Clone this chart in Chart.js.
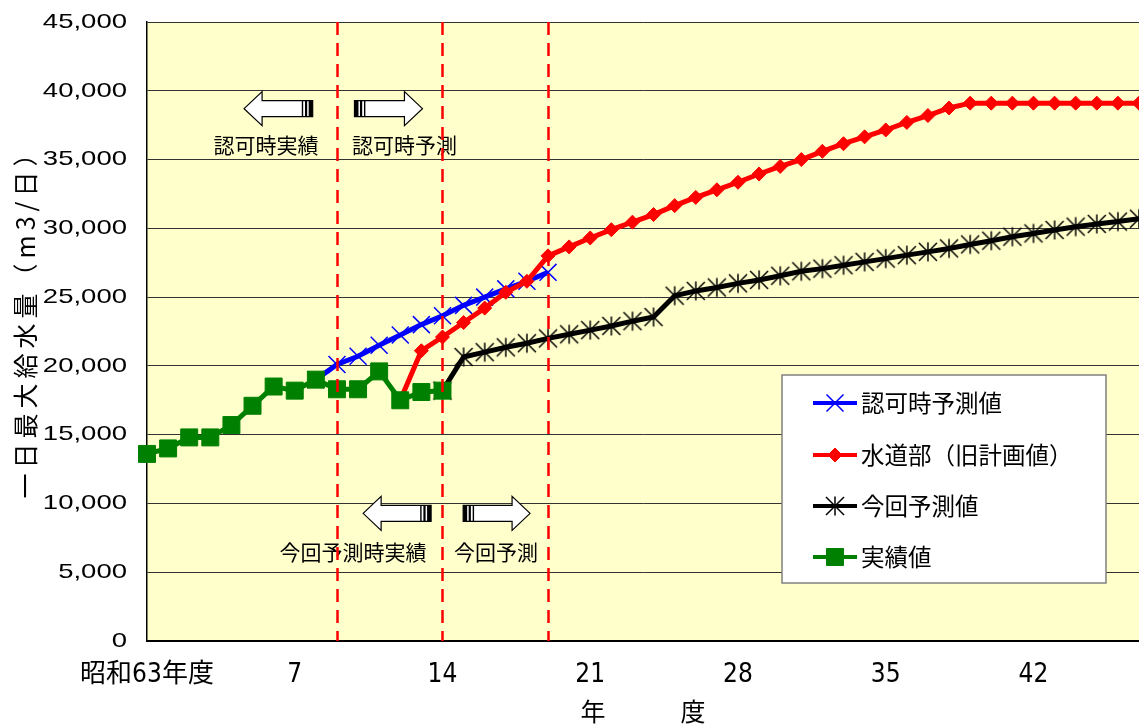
<!DOCTYPE html>
<html lang="ja">
<head>
<meta charset="utf-8">
<title>一日最大給水量の推移</title>
<script src="https://cdn.jsdelivr.net/npm/chart.js@4.4.1/dist/chart.umd.min.js"></script>
<style>
  html, body { margin: 0; padding: 0; background: #fff; }
  #wrap { width: 1139px; height: 726px; }
</style>
</head>
<body>
<div id="wrap"><canvas id="chart" width="1139" height="726"></canvas></div>
<script>
// 年度（0 = 昭和63年度、以降は平成の年）
const years = ["昭和63年度", "1", "2", "3", "4", "5", "6", "7", "8", "9",
  "10", "11", "12", "13", "14", "15", "16", "17", "18", "19",
  "20", "21", "22", "23", "24", "25", "26", "27", "28", "29",
  "30", "31", "32", "33", "34", "35", "36", "37", "38", "39",
  "40", "41", "42", "43", "44", "45", "46", "47"];
const tickLabels = ["昭和63年度", "7", "14", "21", "28", "35", "42"];
const boundaryYears = [9, 14, 19];

// 実績値 (昭和63〜平成14)
const jissekiStart = 0;
const jisseki = [13600, 14000, 14800, 14800, 15700, 17100, 18500, 18200, 19000, 18300,
  18300, 19600, 17500, 18100, 18200];

// 認可時予測値 (平成8〜19)
const ninkaStart = 8;
const ninka = [19000, 20100, 20700, 21500, 22250, 23000, 23650, 24400, 25000, 25600,
  26150, 26800];

// 水道部（旧計画値） (平成12〜47)
const suidoStart = 12;
const suido = [17500, 21100, 22100, 23150, 24200, 25350, 26150, 28000, 28650, 29300,
  29900, 30450, 31000, 31650, 32250, 32800, 33350, 33950, 34500, 35000,
  35600, 36150, 36650, 37150, 37700, 38200, 38750, 39100, 39100, 39100,
  39100, 39100, 39100, 39100, 39100, 39100];

// 今回予測値 (平成14〜47)
const konkaiStart = 14;
const konkai = [18200, 20650, 21000, 21350, 21650, 22000, 22300, 22600, 22900, 23250,
  23550, 25100, 25450, 25700, 26000, 26250, 26550, 26880, 27070, 27320,
  27560, 27800, 28050, 28290, 28540, 28830, 29100, 29390, 29630, 29880,
  30120, 30320, 30490, 30700];

// 年度軸に合わせて先頭を null で埋める
function align(start, vals) {
  return Array(start).fill(null).concat(vals);
}

// 矢印と注記（x は年度、y は給水量の座標）
const arrows = [
  { tail: 7.85, tip: 4.6, y: 38700 },
  { tail: 9.83, tip: 13.05, y: 38700 },
  { tail: 13.46, tip: 10.24, y: 9280 },
  { tail: 14.98, tip: 18.15, y: 9280 }
];
const notes = [
  { text: "認可時実績", x: 5.64, y: 36060 },
  { text: "認可時予測", x: 12.2, y: 36060 },
  { text: "今回予測時実績", x: 9.76, y: 6490 },
  { text: "今回予測", x: 16.54, y: 6490 }
];

const CJK = '"Noto Sans CJK JP", sans-serif';

// エクセル風のアスタリスク（× + 縦線）
function makeAsterisk() {
  const c = document.createElement("canvas");
  c.width = 22; c.height = 22;
  const g = c.getContext("2d");
  g.strokeStyle = "#000";
  g.lineWidth = 1.5;
  g.beginPath();
  g.moveTo(11, 1.5); g.lineTo(11, 20.5);
  g.moveTo(2, 2); g.lineTo(20, 20);
  g.moveTo(20, 2); g.lineTo(2, 20);
  g.stroke();
  return c;
}
const asterisk = makeAsterisk();

const datasets = [
  {
    label: "認可時予測値",
    data: align(ninkaStart, ninka),
    borderColor: "#0000FF",
    borderWidth: 5,
    pointStyle: "crossRot",
    pointRadius: 12,
    pointBorderWidth: 1.5,
    pointBorderColor: "#0000FF",
    pointBackgroundColor: "#0000FF",
    order: 3
  },
  {
    label: "水道部（旧計画値）",
    data: align(suidoStart, suido),
    borderColor: "#FF0000",
    borderWidth: 5,
    pointStyle: "rectRot",
    pointRadius: 7,
    pointBorderWidth: 1,
    pointBorderColor: "#FF0000",
    pointBackgroundColor: "#FF0000",
    order: 2
  },
  {
    label: "今回予測値",
    data: align(konkaiStart, konkai),
    borderColor: "#000000",
    borderWidth: 5,
    pointStyle: asterisk,
    pointRadius: 11,
    pointBorderWidth: 1,
    pointBorderColor: "#000000",
    pointBackgroundColor: "#000000",
    order: 1
  },
  {
    label: "実績値",
    data: align(jissekiStart, jisseki),
    borderColor: "#008000",
    borderWidth: 5,
    pointStyle: "rect",
    pointRadius: 12,
    pointBorderWidth: 1,
    pointBorderColor: "#008000",
    pointBackgroundColor: "#008000",
    order: 0
  }
];

function drawArrow(ctx, xTail, xTip, y) {
  const dir = Math.sign(xTip - xTail);
  const headLen = 18, headH = 17, shaftH = 8;
  const xb = xTip - dir * headLen;
  ctx.beginPath();
  ctx.moveTo(xTip, y);
  ctx.lineTo(xb, y - headH);
  ctx.lineTo(xb, y - shaftH);
  ctx.lineTo(xTail, y - shaftH);
  ctx.lineTo(xTail, y + shaftH);
  ctx.lineTo(xb, y + shaftH);
  ctx.lineTo(xb, y + headH);
  ctx.closePath();
  ctx.fillStyle = "#fff";
  ctx.fill();
  ctx.strokeStyle = "#000";
  ctx.lineWidth = 1.2;
  ctx.stroke();
  // 矢印の根元の帯
  ctx.fillStyle = "#000";
  [[0, 4], [5.5, 2.2], [9.5, 1.4]].forEach(([o, w]) => {
    const x = xTail + dir * o;
    ctx.fillRect(dir > 0 ? x : x - w, y - shaftH, w, 2 * shaftH);
  });
}

const decorPlugin = {
  id: "decor",
  beforeDraw(chart) {
    const { ctx, chartArea: a } = chart;
    ctx.save();
    ctx.fillStyle = "#FFFFCC";
    ctx.fillRect(a.left, a.top, a.right - a.left, a.bottom - a.top);
    ctx.restore();

    const ys = chart.scales.y;
    if (!ys._patched) {
      // 縦軸の数字は横長にする
      const origLabels = ys.drawLabels;
      ys.drawLabels = function (area) {
        const c = this.ctx;
        const ax = this.right - this.options.ticks.padding;
        c.save();
        c.translate(ax, 0);
        c.scale(1.31, 1);
        c.translate(-ax, 0);
        origLabels.call(this, area);
        c.restore();
      };
      // 軸タイトルは字間を少し空け、やや上に置く
      const origTitle = ys.drawTitle;
      ys.drawTitle = function () {
        const c = this.ctx;
        c.save();
        c.translate(0, -14);
        c.letterSpacing = "5px";
        origTitle.call(this);
        c.restore();
      };
      ys._patched = true;
    }
  },
  afterDatasetsDraw(chart) {
    const { ctx, chartArea: a, scales: { x, y } } = chart;
    ctx.save();
    arrows.forEach(ar => drawArrow(ctx, x.getPixelForValue(ar.tail), x.getPixelForValue(ar.tip), y.getPixelForValue(ar.y)));
    ctx.fillStyle = "#000";
    ctx.font = "21px " + CJK;
    ctx.textAlign = "center";
    ctx.textBaseline = "middle";
    notes.forEach(n => ctx.fillText(n.text, x.getPixelForValue(n.x), y.getPixelForValue(n.y)));

    // 区切りの破線
    ctx.strokeStyle = "#FF0000";
    ctx.lineWidth = 2.5;
    ctx.setLineDash([13, 8]);
    boundaryYears.forEach(v => {
      const px = Math.round(x.getPixelForValue(v)) + 0.5;
      ctx.beginPath();
      ctx.moveTo(px, a.top);
      ctx.lineTo(px, a.bottom);
      ctx.stroke();
    });
    ctx.restore();
  },
  afterDraw(chart) {
    const { ctx } = chart;
    const bx = 782, by = 375, bw = 324, bh = 208;
    ctx.save();
    ctx.fillStyle = "#fff";
    ctx.fillRect(bx, by, bw, bh);
    ctx.strokeStyle = "#808080";
    ctx.lineWidth = 1.5;
    ctx.strokeRect(bx, by, bw, bh);
    const rows = [403, 455, 506, 557];
    datasets.forEach((ds, i) => {
      const yy = rows[i];
      ctx.strokeStyle = ds.borderColor;
      ctx.lineWidth = 4;
      ctx.setLineDash([]);
      ctx.beginPath();
      ctx.moveTo(813, yy);
      ctx.lineTo(857, yy);
      ctx.stroke();
      ctx.fillStyle = ds.pointBackgroundColor;
      ctx.strokeStyle = ds.pointBorderColor;
      ctx.lineWidth = ds.pointBorderWidth;
      Chart.helpers.drawPoint(ctx, {
        pointStyle: ds.pointStyle,
        radius: ds.pointRadius,
        borderWidth: ds.pointBorderWidth,
        rotation: 0
      }, 835, yy);
      ctx.fillStyle = "#000";
      ctx.font = "23.5px " + CJK;
      ctx.textAlign = "left";
      ctx.textBaseline = "middle";
      ctx.fillText(ds.label, 861, yy);
    });
    ctx.restore();
  }
};

new Chart(document.getElementById("chart"), {
  type: "line",
  data: { labels: years, datasets: datasets },
  options: {
    responsive: false,
    animation: false,
    events: [],
    layout: { autoPadding: false, padding: { top: 22, right: 0, left: 0, bottom: 0 } },
    elements: { line: { tension: 0 } },
    datasets: { line: { clip: false, spanGaps: false } },
    plugins: { legend: { display: false }, tooltip: { enabled: false } },
    scales: {
      x: {
        type: "category",
        offset: false,
        grid: { display: false, drawTicks: false },
        border: { display: true, color: "#000", width: 2 },
        ticks: {
          autoSkip: false,
          maxRotation: 0,
          padding: 19,
          color: "#000",
          font: { family: '"Liberation Sans Narrow", "DejaVu Sans Condensed", ' + CJK, size: 26 },
          callback: (v, i) => tickLabels.includes(years[i]) && (i % 7 === 0) ? years[i] : ""
        },
        title: {
          display: true,
          text: "年　　　度",
          color: "#000",
          font: { family: CJK, size: 25 },
          padding: { top: 0, bottom: 0 }
        },
        afterFit: s => {
          s.height = 85;
          s.paddingLeft = 0;
          s.paddingRight = 0;
        }
      },
      y: {
        min: 0,
        max: 45000,
        grid: { color: "#333", lineWidth: 1, drawTicks: false },
        border: { display: true, color: "#000", width: 1.5 },
        ticks: {
          stepSize: 5000,
          padding: 20,
          color: "#000",
          font: { family: '"Liberation Sans", Arial, sans-serif', size: 21 },
          callback: v => v.toLocaleString("en-US")
        },
        title: {
          display: true,
          text: "一日最大給水量（m3/日）",
          color: "#000",
          font: { family: CJK, size: 25 },
          padding: { top: 10, bottom: 0 }
        },
        afterFit: s => {
          s.width = 147;
          s.paddingTop = 0;
          s.paddingBottom = 0;
        }
      }
    }
  },
  plugins: [decorPlugin]
});
</script>
</body>
</html>
